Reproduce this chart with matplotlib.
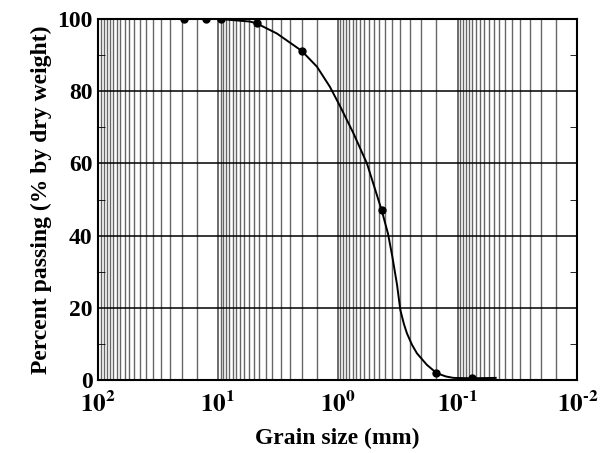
import numpy as np
import matplotlib
matplotlib.use("Agg")
import matplotlib.pyplot as plt
from matplotlib.ticker import LogLocator, FixedLocator, FuncFormatter, NullFormatter

plt.rcParams['font.family'] = 'Liberation Serif'
plt.rcParams['font.weight'] = 'bold'
plt.rcParams['mathtext.fontset'] = 'stix'

# Sieve data (grain size in mm, percent passing)
grain_mm = [19.0, 12.5, 9.5, 4.75, 2.0, 0.425, 0.15, 0.075]
passing = [100.0, 100.0, 100.0, 98.8, 91.2, 47.1, 1.9, 0.5]

# Smooth gradation curve
curve_mm = [19.0, 9.6, 5.4, 4.75, 3.22, 2.0, 1.49, 1.16, 0.95, 0.74, 0.57,
            0.43, 0.38, 0.35, 0.32, 0.30, 0.28, 0.264, 0.24, 0.218, 0.18,
            0.149, 0.125, 0.108, 0.076, 0.048]
curve_pct = [100.0, 100.0, 99.3, 98.8, 96.0, 91.2, 86.8, 81.2, 75.7, 68.4, 60.0,
             47.1, 40.5, 34.2, 26.5, 19.4, 15.5, 12.9, 9.8, 7.4, 4.2,
             1.9, 1.0, 0.6, 0.5, 0.6]


def decade_label(v, pos):
    e = int(round(np.log10(v)))
    if e < 0:
        return r'$\mathbf{10^{\text{-}%d}}$' % (-e)
    return r'$\mathbf{10^{%d}}$' % e


fig = plt.figure(figsize=(6.09, 4.53), dpi=100)
ax = fig.add_axes([0.161, 0.161, 0.787, 0.797])

ax.set_xscale('log')
ax.set_xlim(100, 0.01)
ax.set_ylim(0, 100)

# Dense grid: lines every half unit inside each decade
ax.xaxis.set_major_locator(LogLocator(base=10, numticks=10))
ax.xaxis.set_minor_locator(LogLocator(base=10, subs=np.arange(1.5, 10, 0.5), numticks=20))
ax.xaxis.set_minor_formatter(NullFormatter())
ax.xaxis.set_major_formatter(FuncFormatter(decade_label))
ax.grid(True, which='major', axis='x', color='#444444', lw=1.1)
ax.grid(True, which='minor', axis='x', color='#666666', lw=1.0)

ax.yaxis.set_major_locator(FixedLocator([0, 20, 40, 60, 80, 100]))
ax.yaxis.set_minor_locator(FixedLocator([10, 30, 50, 70, 90]))
ax.grid(True, which='major', axis='y', color='black', lw=1.1)

ax.tick_params(axis='both', which='both', direction='in', top=True, right=True)
ax.tick_params(axis='x', which='both', length=0, pad=8)
ax.tick_params(axis='y', which='major', length=0, labelsize=17, pad=4)
ax.tick_params(axis='y', which='minor', length=5)
ax.tick_params(axis='x', labelsize=18)

ax.plot(curve_mm, curve_pct, color='black', lw=1.4, zorder=3)
ax.plot(grain_mm, passing, 'o', color='black', ms=5, zorder=4)

for s in ax.spines.values():
    s.set_linewidth(1.5)
    s.set_zorder(5)

ax.set_xlabel('Grain size (mm)', fontsize=17, fontweight='bold', labelpad=8)
ax.set_ylabel('Percent passing (% by dry weight)', fontsize=17, fontweight='bold', labelpad=4)

fig.savefig('out.png', dpi=100)
